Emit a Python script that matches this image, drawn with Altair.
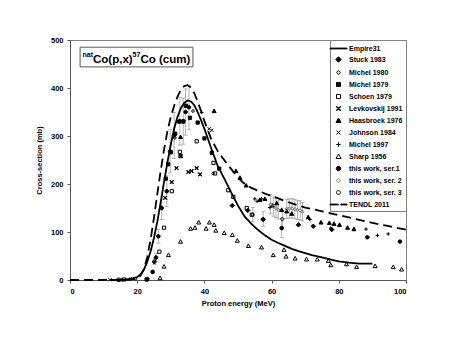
import altair as alt
import pandas as pd

# ---------------- curves ----------------
empire_E = [12, 16, 18, 20, 21, 22, 23, 24, 25, 26, 27, 28, 29, 30, 31, 32, 33, 34, 35, 36, 37, 38,
            39, 40, 42, 44, 46, 48, 50, 52, 54, 56, 58, 60, 62, 64, 66, 68, 70, 72, 75, 78, 80, 83,
            86, 88, 90]
empire_s = [0, 0.5, 2, 6, 12, 22, 38, 60, 88, 122, 162, 205, 245, 282, 315, 340, 358, 369, 374, 372,
            364, 350, 333, 315, 275, 237, 210, 182, 155, 132, 117, 104, 93, 84, 77, 71, 65, 60, 56,
            52, 47, 42, 39, 36, 34, 34, 34]

tendl_E = [0, 5, 10, 14, 17, 19, 20, 21, 22, 23, 24, 25, 26, 27, 28, 29, 30, 31, 32, 33, 34, 35, 36,
           37, 38, 39, 40, 42, 44, 46, 48, 50, 52, 54, 56, 58, 60, 62, 65, 68, 70, 75, 80, 85, 90,
           95, 100]
tendl_s = [0, 0, 0, 0, 1, 2, 4, 9, 22, 48, 85, 130, 180, 228, 272, 310, 340, 363, 382, 396, 404, 406,
           401, 389, 372, 352, 331, 294, 268, 249, 231, 213, 200, 192, 186, 180, 175, 170, 162, 155,
           151, 143, 135, 127, 119, 112, 105]

# ---------------- experimental series ----------------
stuck_E = [48.3, 52.9, 57.5, 68.0, 72.4, 77.9]
stuck_s = [155, 145, 126, 115, 112, 105]

michel80_E = [15.5, 17.8, 19.5, 31.2, 36.6, 42.6]
michel80_s = [0.5, 1.5, 3, 296, 352, 222]

michel79_E = [28.5, 29.2, 30.0, 31.3, 32.5, 33.7, 34.5, 35.7, 38.0, 40.0, 42.2, 44.4]
michel79_s = [211, 241, 266, 305, 330, 330, 363, 338, 328, 295, 265, 232]

schoen_E = [14.5, 16.1, 22.8, 26.6, 28.0, 30.3, 32.9, 32.7, 37.7, 42.7, 43.2, 47.1, 48.6, 52.6, 54.1]
schoen_s = [0.5, 1, 1, 59, 109, 185, 258, 267, 289, 244, 222, 187, 173, 150, 136]

levk_E = [28.3, 30.3, 31.7, 32.9, 35.2, 36.2, 37.7, 38.7]
levk_s = [171, 204, 233, 258, 225, 227, 233, 220]

haas_E = [32.9, 42.9, 49.4, 50.6, 52.4, 56.5, 58.0, 60.3, 61.5, 63.0, 64.5, 66.0, 70.9, 74.7, 77.2,
          78.6, 80.2, 82.6, 84.5]
haas_s = [298, 352, 227, 213, 197, 167, 169, 155, 160, 146, 143, 138, 131, 120, 119, 117, 115, 109,
          106]

johnson_E = [11.9, 18.6, 41.4, 42.2]
johnson_s = [0.5, 3, 315, 312]

michel97_E = [39.2, 55.0, 55.7, 57.0, 59.5, 71.4, 77.6, 88.1, 91.5, 94.7]
michel97_s = [349, 169, 164, 169, 151, 126, 108, 106, 93, 96]

sharp_E = [26.8, 28.0, 29.3, 32.9, 35.9, 37.2, 38.3, 40.5, 41.5, 42.9, 43.4, 45.9, 48.3, 49.8, 53.1,
           57.0, 60.5, 63.7, 64.3, 67.0, 70.4, 73.6, 76.9, 77.6, 82.3, 85.3, 90.8, 96.2, 98.7]
sharp_s = [4, 28, 52, 80, 107, 109, 120, 107, 120, 115, 103, 98, 94, 82, 71, 68, 52, 63, 49, 45, 43,
           43, 40, 31, 33, 27, 29, 27, 22]

ser1_E = [23.0, 24.6, 25.1, 25.6, 26.3, 27.3, 28.8, 29.8, 31.0, 32.7, 33.7, 34.4, 35.4, 63.0, 88.5,
          98.2]
ser1_s = [2, 17, 38, 47, 91, 150, 185, 268, 301, 331, 331, 350, 360, 108, 89, 80]
ser1_err = [1, 3, 6, 8, 14, 24, 32, 45, 48, 50, 48, 48, 46, 20, 0, 0]

ser2_E = [59.7, 60.5, 61.3, 62.0, 64.5, 65.3, 66.1, 66.9, 67.7, 68.5, 69.2]
ser2_s = [158, 153, 150, 146, 148, 149, 149, 148, 146, 145, 142]
ser2_err = [20, 20, 20, 19, 20, 20, 20, 20, 20, 20, 19]

ser3_E = [54.4, 57.5, 63.2]
ser3_s = [136, 127, 127]
ser3_err = [15, 15, 15]

SERIES = ["Empire31", "Stuck 1983", "Michel 1980", "Michel 1979", "Schoen 1979",
          "Levkovskij 1991", "Haasbroek 1976", "Johnson 1984", "Michel 1997", "Sharp 1956",
          "this work, ser.1", "this work, ser. 2", "this work, ser. 3", "TENDL 2011"]

# marker glyphs (unit box, drawn through the shape scale)
SHAPES = [
    "M-1.7,-0.08H1.7V0.08H-1.7Z",
    "M0,-0.55L0.55,0L0,0.55L-0.55,0Z",
    "M-0.33,0A0.33,0.33 0 1,0 0.33,0A0.33,0.33 0 1,0 -0.33,0Z",
    "M-0.4,-0.4H0.4V0.4H-0.4Z",
    "M-0.4,-0.4H0.4V0.4H-0.4Z",
    "M-0.45,-0.35L-0.35,-0.45L0,-0.1L0.35,-0.45L0.45,-0.35L0.1,0L0.45,0.35L0.35,0.45L0,0.1L-0.35,0.45L-0.45,0.35L-0.1,0Z",
    "M0,-0.5L0.5,0.4L-0.5,0.4Z",
    "M-0.4,-0.4L0.4,0.4M-0.4,0.4L0.4,-0.4",
    "M-0.45,0H0.45M0,-0.45V0.45",
    "M0,-0.5L0.5,0.4L-0.5,0.4Z",
    "M-0.45,0A0.45,0.45 0 1,0 0.45,0A0.45,0.45 0 1,0 -0.45,0Z",
    "M-0.35,0A0.35,0.35 0 1,0 0.35,0A0.35,0.35 0 1,0 -0.35,0Z",
    "M-0.4,0A0.4,0.4 0 1,0 0.4,0A0.4,0.4 0 1,0 -0.4,0Z",
    "M-1.7,-0.08H-0.05V0.08H-1.7Z M0.45,-0.08H1.7V0.08H0.45Z",
]
FILLS = ["black", "black", "transparent", "black", "transparent", "black", "black",
         "transparent", "transparent", "transparent", "black", "transparent", "transparent",
         "black"]
STROKES = ["black", "black", "black", "black", "black", "black", "black", "black", "black",
           "black", "black", "#808080", "black", "black"]

FONT = "Liberation Sans"

rows = []
for name, es, ss in [("Stuck 1983", stuck_E, stuck_s), ("Michel 1980", michel80_E, michel80_s),
                     ("Michel 1979", michel79_E, michel79_s), ("Schoen 1979", schoen_E, schoen_s),
                     ("Levkovskij 1991", levk_E, levk_s), ("Haasbroek 1976", haas_E, haas_s),
                     ("Johnson 1984", johnson_E, johnson_s), ("Michel 1997", michel97_E, michel97_s),
                     ("Sharp 1956", sharp_E, sharp_s), ("this work, ser.1", ser1_E, ser1_s),
                     ("this work, ser. 2", ser2_E, ser2_s), ("this work, ser. 3", ser3_E, ser3_s)]:
    for e, s in zip(es, ss):
        rows.append({"series": name, "E": e, "s": s})
pts = pd.DataFrame(rows)

err_rows = []
for es, ss, ee in [(ser1_E, ser1_s, ser1_err), (ser2_E, ser2_s, ser2_err), (ser3_E, ser3_s, ser3_err)]:
    for e, s, d in zip(es, ss, ee):
        if d > 0:
            err_rows.append({"E": e, "lo": s - d, "hi": s + d})
errs = pd.DataFrame(err_rows)

emp = pd.DataFrame({"E": empire_E, "s": empire_s})
ten = pd.DataFrame({"E": tendl_E, "s": tendl_s})

xs = alt.Scale(domain=[0, 100], nice=False)
ys = alt.Scale(domain=[0, 500], nice=False)
X = alt.X("E:Q", scale=xs, title="Proton energy (MeV)",
          axis=alt.Axis(values=[0, 20, 40, 60, 80, 100]))
Y = alt.Y("s:Q", scale=ys, title="Cross-section (mb)",
          axis=alt.Axis(values=[0, 100, 200, 300, 400, 500]))

err_rule = alt.Chart(errs).mark_rule(color="#a0a0a0", strokeWidth=0.8).encode(
    x=alt.X("E:Q", scale=xs), y=alt.Y("lo:Q", scale=ys), y2="hi:Q")
cap_lo = alt.Chart(errs).mark_tick(orient="horizontal", size=4, thickness=0.8, color="#a0a0a0",
                                   opacity=1).encode(x=alt.X("E:Q", scale=xs), y=alt.Y("lo:Q", scale=ys))
cap_hi = alt.Chart(errs).mark_tick(orient="horizontal", size=4, thickness=0.8, color="#a0a0a0",
                                   opacity=1).encode(x=alt.X("E:Q", scale=xs), y=alt.Y("hi:Q", scale=ys))

empire_line = alt.Chart(emp).mark_line(color="black", strokeWidth=1.8).encode(x=X, y=Y)
tendl_line = alt.Chart(ten).mark_line(color="black", strokeWidth=1.8,
                                      strokeDash=[9, 5]).encode(x=X, y=Y)

leg = alt.Legend(title=None)
points = alt.Chart(pts).mark_point(filled=True, opacity=1, size=64, strokeWidth=1).encode(
    x=X, y=Y,
    shape=alt.Shape("series:N", scale=alt.Scale(domain=SERIES, range=SHAPES), legend=leg),
    fill=alt.Fill("series:N", scale=alt.Scale(domain=SERIES, range=FILLS), legend=leg),
    stroke=alt.Stroke("series:N", scale=alt.Scale(domain=SERIES, range=STROKES), legend=leg),
)

# title box inside the plot (data coordinates)
box_E = [3.0, 36.6]
box_s = [444, 485]
lbl = pd.DataFrame({"E": [3.72, 6.85, 18.63, 20.95], "s": [465.5, 453, 465.5, 453],
                    "t": ["nat", "Co(p,x)", "57", "Co (cum)"], "fs": [7, 11.5, 7, 11.5]})
box = alt.Chart(pd.DataFrame({"E": [box_E[0]], "E2": [box_E[1]], "s": [box_s[0]], "s2": [box_s[1]]})
                ).mark_rect(fill="white", stroke="#555555", strokeWidth=1).encode(
    x=alt.X("E:Q", scale=xs), x2="E2:Q", y=alt.Y("s:Q", scale=ys), y2="s2:Q")
big = alt.Chart(lbl[lbl.fs > 10]).mark_text(align="left", baseline="alphabetic", font=FONT,
                                            fontWeight="bold", fontSize=11.5, color="black").encode(
    x=alt.X("E:Q", scale=xs), y=alt.Y("s:Q", scale=ys), text="t:N")
small = alt.Chart(lbl[lbl.fs < 10]).mark_text(align="left", baseline="alphabetic", font=FONT,
                                              fontWeight="bold", fontSize=7, color="black").encode(
    x=alt.X("E:Q", scale=xs), y=alt.Y("s:Q", scale=ys), text="t:N")

chart = alt.layer(err_rule, cap_lo, cap_hi, empire_line, points, tendl_line, box, big, small).properties(
    width=336, height=240,
    autosize=alt.AutoSizeParams(type="none"),
    padding={"left": 62, "top": 32, "right": 30, "bottom": 40},
).configure_view(stroke="#808080", strokeWidth=1).configure_axis(
    grid=False, domainColor="#555555", tickColor="#555555", tickSize=3, labelPadding=4,
    labelFont=FONT, labelFontWeight="bold", labelFontSize=7.5, labelColor="black",
    titleFont=FONT, titleFontWeight="bold", titleFontSize=7.5, titleColor="black",
).configure_axisX(titlePadding=5).configure_axisY(titlePadding=7).configure_legend(
    orient="top-right", offset=0, padding=3, strokeColor="#808080", fillColor="white",
    labelFont=FONT, labelFontWeight="bold", labelFontSize=7, labelColor="black",
    symbolSize=100, rowPadding=2, labelOffset=5, symbolStrokeWidth=1, symbolOpacity=1,
)

chart.save("out.html", embed_options={"renderer": "svg", "actions": False})
